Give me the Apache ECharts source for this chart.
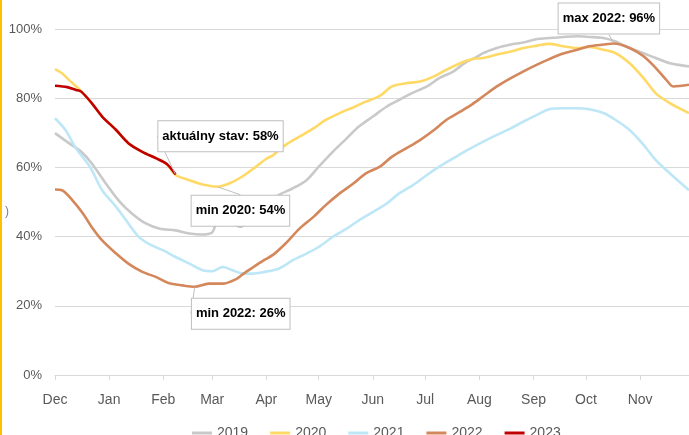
<!DOCTYPE html>
<html>
<head>
<meta charset="utf-8">
<script src="https://cdn.jsdelivr.net/npm/echarts@6/dist/echarts.min.js"></script>
<style>
  html, body { margin: 0; padding: 0; background: #fff; }
  #chart { width: 689px; height: 435px; }
</style>
</head>
<body>
<div id="chart"></div>
<script>
// x = deň od 1. decembra, y = naplnenosť zásobníkov v %
var monthNames = ['Dec', 'Jan', 'Feb', 'Mar', 'Apr', 'May', 'Jun', 'Jul', 'Aug', 'Sep', 'Oct', 'Nov'];
var monthStarts = [0, 31, 62, 90, 121, 151, 182, 212, 243, 274, 304, 335];
var yTicks = [0, 20, 40, 60, 80, 100];

var years = ['2019', '2020', '2021', '2022', '2023'];

var data2019 = [[0, 69.9], [8, 67.0], [15, 64.5], [21, 61.2], [29, 55.4], [37, 50.1], [44, 46.7], [52, 43.8], [60, 42.3],
    [69, 41.8], [77, 40.9], [84, 40.6], [90, 41.2], [93, 44], [100, 44], [106, 42.8], [113, 45.5], [121, 49.5], [128, 52],
    [136, 53.9], [144, 56.3], [151, 60.2], [159, 64.5], [167, 68.4], [174, 71.8], [182, 74.7], [190, 77.6], [197, 79.5],
    [205, 81.6], [213, 83.4], [220, 85.8], [228, 87.7], [235, 90.3], [241, 91.8], [245, 93.0], [253, 94.5], [261, 95.5],
    [268, 96.1], [276, 97.1], [283, 97.4], [291, 97.7], [299, 97.9], [306, 97.7], [314, 97.4], [321, 96.4], [329, 94.5],
    [337, 93.0], [344, 91.6], [352, 90.1], [356, 89.7], [363, 89.2]];

var data2020 = [[0, 88.4], [4, 87.2], [8, 85.3], [13, 83.0], [15, 82.0], [21, 78.6], [27, 74.7], [35, 70.8], [42, 67.0],
    [50, 64.5], [58, 62.6], [64, 61.0], [69, 57.8], [77, 56.3], [86, 54.9], [93, 54.4], [100, 55.4], [107, 57.3],
    [115, 60.2], [121, 62.5], [125, 63.6], [132, 66.5], [140, 68.9], [148, 71.3], [155, 73.7], [163, 75.7], [171, 77.4],
    [178, 79.0], [186, 80.7], [193, 83.4], [201, 84.3], [209, 84.8], [217, 86.3], [224, 88.2], [232, 90.1], [239, 91.3],
    [245, 91.6], [253, 92.6], [261, 93.5], [268, 94.5], [276, 95.2], [283, 95.7], [291, 95.0], [299, 94.5], [306, 94.8],
    [314, 94.0], [321, 93.0], [329, 90.1], [337, 85.8], [344, 81.4], [352, 78.6], [363, 75.7]];

var data2021 = [[0, 74.2], [6, 70.8], [12, 65.5], [20, 60.2], [27, 53.4], [35, 48.6], [42, 43.8], [48, 39.9], [54, 37.8],
    [62, 36.0], [69, 34.1], [77, 32.2], [85, 30.2], [90, 30.0], [96, 31.2], [102, 30.2], [108, 29.3], [113, 29.3],
    [120, 29.8], [128, 30.7], [136, 33.1], [144, 35.1], [151, 37.0], [159, 39.9], [167, 42.3], [174, 44.7], [182, 47.1],
    [190, 49.6], [197, 52.5], [205, 54.9], [213, 57.8], [220, 60.2], [228, 62.6], [236, 65.0], [245, 67.4], [253, 69.4],
    [261, 71.3], [268, 73.2], [276, 75.2], [283, 76.8], [291, 77.1], [299, 77.1], [306, 76.8], [314, 75.7], [321, 73.7],
    [329, 70.8], [337, 66.5], [344, 62.1], [352, 58.3], [363, 53.4]];

var data2022 = [[0, 53.6], [4, 53.4], [10, 50.5], [16, 46.7], [21, 42.8], [27, 38.9], [35, 35.1], [42, 32.2], [50, 29.8],
    [58, 28.3], [65, 26.6], [73, 25.9], [80, 25.5], [88, 26.4], [96, 26.4], [104, 27.8], [108, 29.3], [113, 31.0],
    [119, 33.0], [125, 34.8], [132, 38.0], [140, 42.3], [148, 45.7], [155, 49.1], [163, 52.5], [171, 55.4], [178, 58.3],
    [186, 60.2], [193, 63.1], [201, 65.5], [209, 67.9], [217, 70.8], [224, 73.7], [232, 76.1], [239, 78.3], [245, 80.5],
    [253, 83.4], [261, 85.8], [268, 87.7], [276, 89.7], [283, 91.3], [291, 92.9], [299, 94.0], [306, 95.0], [314, 95.5],
    [320, 95.8], [329, 94.5], [337, 92.1], [344, 88.7], [350, 85.3], [354, 83.4], [363, 83.9]];

var data2023 = [[0, 83.6], [7, 83.2], [12, 82.4], [15, 81.9], [21, 78.6], [27, 74.7], [35, 70.8], [42, 67.0], [50, 64.5],
    [58, 62.6], [64, 61.0], [69, 58]];

var seriesData = [data2019, data2020, data2021, data2022, data2023];
var colors = ['#C9C9C9', '#FFD966', '#BDE7F7', '#D4875A', '#C00000'];

// popisky: rok, deň bodu, text
var callouts = [
    { year: '2023', day: 69, text: 'aktuálny stav: 58%' },
    { year: '2020', day: 93, text: 'min 2020: 54%' },
    { year: '2022', day: 80, text: 'min 2022: 26%' },
    { year: '2022', day: 320, text: 'max 2022: 96%' }
];
// posun popiskov (px)
var calloutShift = {
    'aktuálny stav: 58%': [45, -38],
    'min 2020: 54%': [23, 24],
    'min 2022: 26%': [46, 27],
    'max 2022: 96%': [-5, -25]
};

var chart = echarts.init(document.getElementById('chart'));

var series = years.map(function (year, si) {
    var data = seriesData[si].map(function (p) {
        var c = callouts.find(function (c) { return c.year === year && c.day === p[0]; });
        if (!c) return p;
        return {
            value: p,
            symbol: 'circle',
            symbolSize: 1,
            label: {
                show: true,
                position: 'inside',
                formatter: c.text
            }
        };
    });
    return {
        name: year,
        type: 'line',
        data: data,
        symbol: 'none',
        showSymbol: true,
        showAllSymbol: true,
        smooth: 0.3,
        z: si + 2,
        lineStyle: { color: colors[si], width: 2.6 },
        itemStyle: { color: colors[si] },
        label: {
            fontFamily: 'Liberation Sans',
            fontSize: 13,
            fontWeight: 'bold',
            color: '#000',
            backgroundColor: '#fff',
            borderColor: '#BFBFBF',
            borderWidth: 1,
            padding: [9, 4, 8, 4]
        },
        labelLine: {
            show: true,
            lineStyle: { color: '#BFBFBF', width: 1 }
        },
        labelLayout: function (params) {
            var s = calloutShift[params.text];
            if (!s) return {};
            return { dx: s[0], dy: s[1] };
        }
    };
});

var option = {
    animation: false,
    backgroundColor: '#fff',
    color: colors,
    textStyle: { fontFamily: 'Liberation Sans' },
    grid: { left: 55, right: 0, top: 29, bottom: 60 },
    xAxis: {
        type: 'value',
        min: 0,
        max: 363,
        axisLine: { show: true, lineStyle: { color: '#D9D9D9' } },
        axisTick: {
            show: true,
            length: 5,
            customValues: monthStarts,
            lineStyle: { color: '#D9D9D9' }
        },
        splitLine: { show: false },
        axisLabel: {
            customValues: monthStarts,
            fontSize: 14,
            color: '#595959',
            margin: 18,
            formatter: function (v) {
                return monthNames[monthStarts.indexOf(v)];
            }
        }
    },
    yAxis: {
        type: 'value',
        min: yTicks[0],
        max: yTicks[yTicks.length - 1],
        interval: 20,
        axisLine: { show: false },
        axisTick: { show: false },
        splitLine: { lineStyle: { color: '#D9D9D9', width: 1 } },
        axisLabel: {
            fontSize: 13,
            color: '#595959',
            margin: 13,
            formatter: '{value}%'
        }
    },
    legend: {
        data: years,
        left: 187,
        top: 421,
        icon: 'rect',
        itemWidth: 20,
        itemHeight: 3,
        itemGap: 22,
        textStyle: { fontSize: 14, color: '#595959' }
    },
    graphic: [
        { type: 'rect', left: 0, top: 0, shape: { width: 2, height: 435 }, style: { fill: '#FFC000' } },
        { type: 'text', left: 5, top: 206, style: { text: ')', fontSize: 12, fill: '#7F7F7F' } }
    ],
    series: series
};

chart.setOption(option);
</script>
</body>
</html>
